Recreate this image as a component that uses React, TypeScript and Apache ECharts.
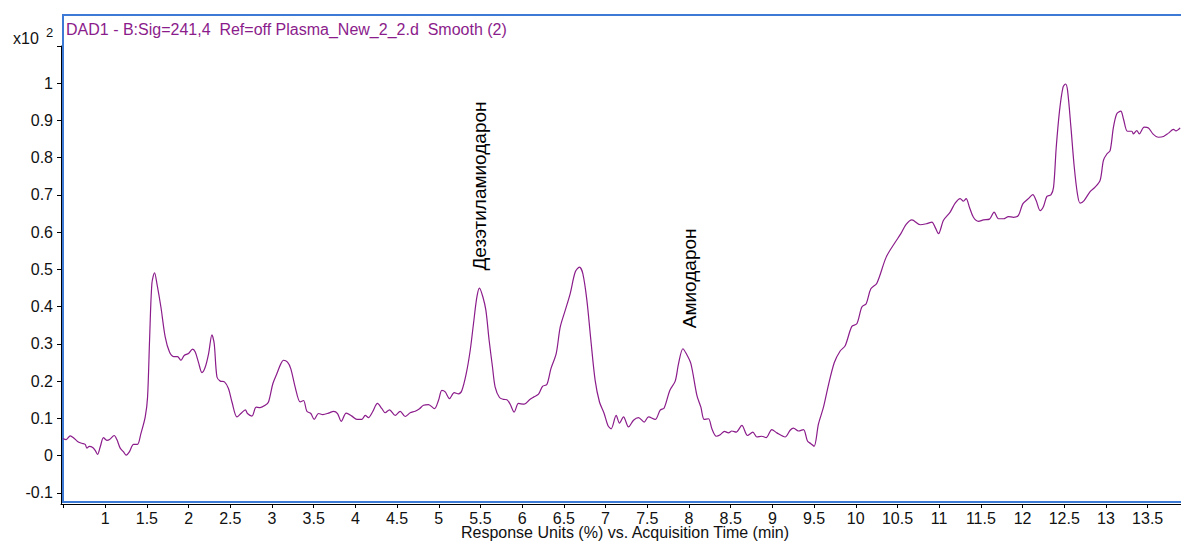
import { useEffect, useRef } from 'react';
import * as echarts from 'echarts';

// Retention time (min) of each sampled point of the DAD1 trace
const retentionTimes = [
  0.493, 0.532, 0.58, 0.62, 0.668, 0.72, 0.76, 0.78, 0.81, 0.85, 0.88, 0.908, 0.94, 0.98, 1.02, 1.052,
  1.108, 1.14, 1.18, 1.22, 1.252, 1.29, 1.34, 1.387, 1.428, 1.48, 1.508, 1.532, 1.56, 1.592, 1.62, 1.668,
  1.72, 1.771, 1.82, 1.867, 1.908, 1.947, 1.999, 2.047, 2.08, 2.12, 2.16, 2.2, 2.24, 2.28, 2.307, 2.34,
  2.38, 2.43, 2.478, 2.52, 2.58, 2.627, 2.68, 2.706, 2.76, 2.81, 2.858, 2.918, 2.958, 3.01, 3.058, 3.107,
  3.138, 3.186, 3.226, 3.278, 3.338, 3.378, 3.418, 3.466, 3.506, 3.558, 3.61, 3.678, 3.738, 3.786, 3.83,
  3.89, 3.958, 4.018, 4.078, 4.118, 4.157, 4.205, 4.265, 4.318, 4.357, 4.409, 4.477, 4.537, 4.597, 4.657,
  4.717, 4.769, 4.817, 4.877, 4.948, 4.996, 5.037, 5.077, 5.128, 5.185, 5.237, 5.277, 5.329, 5.377, 5.416,
  5.457, 5.488, 5.529, 5.565, 5.604, 5.644, 5.676, 5.728, 5.776, 5.817, 5.856, 5.904, 5.956, 6.024, 6.088,
  6.136, 6.196, 6.244, 6.296, 6.344, 6.408, 6.456, 6.516, 6.576, 6.636, 6.687, 6.728, 6.776, 6.824, 6.875,
  6.927, 6.983, 7.028, 7.067, 7.127, 7.167, 7.215, 7.275, 7.335, 7.395, 7.463, 7.515, 7.595, 7.655, 7.703,
  7.77, 7.835, 7.875, 7.927, 7.967, 8.023, 8.095, 8.143, 8.183, 8.234, 8.275, 8.327, 8.375, 8.426, 8.474,
  8.514, 8.566, 8.634, 8.702, 8.766, 8.814, 8.874, 8.925, 8.994, 9.054, 9.153, 9.213, 9.253, 9.313, 9.373,
  9.421, 9.462, 9.5, 9.553, 9.613, 9.673, 9.743, 9.813, 9.873, 9.953, 10.013, 10.073, 10.125, 10.181,
  10.253, 10.365, 10.473, 10.541, 10.604, 10.673, 10.773, 10.853, 10.913, 10.952, 10.992, 11.052, 11.132,
  11.192, 11.252, 11.291, 11.324, 11.363, 11.411, 11.471, 11.531, 11.603, 11.659, 11.711, 11.771, 11.831,
  11.891, 11.951, 12.003, 12.07, 12.123, 12.163, 12.211, 12.251, 12.292, 12.34, 12.372, 12.404, 12.444,
  12.485, 12.516, 12.54, 12.58, 12.62, 12.658, 12.69, 12.738, 12.81, 12.87, 12.93, 12.97, 13.011, 13.05,
  13.09, 13.13, 13.178, 13.21, 13.257, 13.31, 13.33, 13.37, 13.4, 13.458, 13.51, 13.563, 13.63, 13.69,
  13.75, 13.81, 13.84, 13.89,
];

// Detector response (x10^2 %) at each retention time above
const signalValues = [
  0.046, 0.043, 0.053, 0.048, 0.038, 0.033, 0.03, 0.02, 0.025, 0.022, 0.014, 0.003, 0.023, 0.048, 0.041, 0.043,
  0.054, 0.043, 0.02, 0.01, 0.001, 0.01, 0.03, 0.03, 0.059, 0.104, 0.157, 0.31, 0.462, 0.491, 0.462, 0.399,
  0.318, 0.278, 0.266, 0.266, 0.256, 0.269, 0.274, 0.286, 0.278, 0.249, 0.223, 0.238, 0.274, 0.324, 0.301, 0.211,
  0.2, 0.198, 0.18, 0.144, 0.104, 0.113, 0.123, 0.113, 0.106, 0.13, 0.129, 0.135, 0.144, 0.193, 0.22, 0.247,
  0.256, 0.251, 0.233, 0.184, 0.144, 0.148, 0.119, 0.113, 0.097, 0.113, 0.11, 0.114, 0.119, 0.113, 0.092,
  0.114, 0.106, 0.097, 0.097, 0.108, 0.102, 0.117, 0.14, 0.126, 0.115, 0.123, 0.108, 0.119, 0.105, 0.115,
  0.119, 0.126, 0.135, 0.137, 0.126, 0.148, 0.175, 0.171, 0.153, 0.169, 0.166, 0.175, 0.22, 0.283, 0.354,
  0.426, 0.45, 0.426, 0.39, 0.309, 0.238, 0.184, 0.156, 0.151, 0.15, 0.138, 0.117, 0.14, 0.138, 0.15,
  0.157, 0.165, 0.186, 0.191, 0.233, 0.274, 0.345, 0.39, 0.435, 0.493, 0.506, 0.488, 0.417, 0.309, 0.202,
  0.144, 0.113, 0.081, 0.072, 0.108, 0.087, 0.104, 0.077, 0.095, 0.102, 0.09, 0.104, 0.097, 0.122, 0.128,
  0.175, 0.2, 0.247, 0.287, 0.274, 0.247, 0.162, 0.13, 0.097, 0.099, 0.072, 0.052, 0.056, 0.065, 0.061,
  0.066, 0.063, 0.081, 0.054, 0.063, 0.05, 0.052, 0.048, 0.07, 0.061, 0.05, 0.068, 0.074, 0.066, 0.07,
  0.039, 0.032, 0.025, 0.085, 0.13, 0.19, 0.25, 0.281, 0.295, 0.347, 0.354, 0.399, 0.408, 0.448,
  0.463, 0.533, 0.573, 0.596, 0.621, 0.633, 0.62, 0.623, 0.627, 0.613, 0.596, 0.632, 0.654,
  0.678, 0.69, 0.683, 0.69, 0.667, 0.64, 0.629, 0.633, 0.635, 0.654, 0.636, 0.636, 0.642,
  0.64, 0.645, 0.676, 0.69, 0.701, 0.685, 0.658, 0.669, 0.696, 0.7, 0.721, 0.828, 0.927,
  0.989, 0.998, 0.98, 0.882, 0.775, 0.703, 0.678, 0.685, 0.709, 0.721, 0.739, 0.793, 0.81, 0.819,
  0.882, 0.918, 0.925, 0.904, 0.871, 0.871, 0.864, 0.873, 0.864, 0.882, 0.88, 0.864, 0.855, 0.857,
  0.866, 0.876, 0.872, 0.88,
];

// Axis ticks and labels
const timeTicks = [0.5, 1, 1.5, 2, 2.5, 3, 3.5, 4, 4.5, 5, 5.5, 6, 6.5, 7, 7.5, 8, 8.5, 9, 9.5, 10, 10.5, 11, 11.5, 12, 12.5, 13, 13.5];
const timeLabels = [1, 1.5, 2, 2.5, 3, 3.5, 4, 4.5, 5, 5.5, 6, 6.5, 7, 7.5, 8, 8.5, 9, 9.5, 10, 10.5, 11, 11.5, 12, 12.5, 13, 13.5];
const signalTicks = [-0.1, 0, 0.1, 0.2, 0.3, 0.4, 0.5, 0.6, 0.7, 0.8, 0.9, 1, 1.1];
const signalLabels = [-0.1, 0, 0.1, 0.2, 0.3, 0.4, 0.5, 0.6, 0.7, 0.8, 0.9, 1];

// Identified compounds: name, retention time and the level where the label starts
const compoundNames = ['Дезэтиламиодарон', 'Амиодарон'];
const compoundTimes = [5.49, 8.01];
const compoundLabelLevels = [0.497, 0.342];

const FONT = '"Liberation Sans", Arial, sans-serif';
const TRACE = '#8b1c8b';
const FRAME = '#3c7ad6';

export default function App() {
  const ref = useRef<HTMLDivElement>(null);

  useEffect(() => {
    if (!ref.current) return;
    const chart = echarts.init(ref.current, undefined, { renderer: 'svg' });

    const fmt = (v: number) => String(parseFloat(Number(v).toFixed(2)));

    chart.setOption({
      animation: false,
      grid: { left: 61, top: 46, width: 1120, height: 458 },
      xAxis: {
        type: 'value',
        min: 0.47,
        max: 13.9,
        axisLine: { show: true, onZero: false, lineStyle: { color: '#000', width: 1 } },
        axisTick: { show: true, customValues: timeTicks, length: 4, lineStyle: { color: '#000' } },
        axisLabel: {
          customValues: timeLabels,
          formatter: fmt,
          margin: 6,
          fontSize: 16,
          fontFamily: FONT,
          color: '#111',
        },
        splitLine: { show: false },
      },
      yAxis: {
        type: 'value',
        min: -0.13,
        max: 1.1,
        axisLine: { show: true, onZero: false, lineStyle: { color: '#000', width: 1 } },
        axisTick: { show: true, customValues: signalTicks, length: 4, lineStyle: { color: '#000' } },
        axisLabel: {
          customValues: signalLabels,
          formatter: fmt,
          margin: 8,
          fontSize: 16,
          fontFamily: FONT,
          color: '#111',
        },
        splitLine: { show: false },
      },
      series: [
        {
          type: 'line',
          data: retentionTimes.map((t, i) => [t, signalValues[i]]),
          symbol: 'none',
          smooth: 0.3,
          lineStyle: { color: TRACE, width: 1.2 },
        },
      ],
    });

    const labels = compoundNames.map((name, i) => {
      const [px, py] = chart.convertToPixel({ gridIndex: 0 }, [compoundTimes[i], compoundLabelLevels[i]]) as number[];
      return {
        type: 'text',
        x: px,
        y: py,
        rotation: Math.PI / 2,
        style: {
          text: name,
          fill: '#000',
          font: `19px ${FONT}`,
          textAlign: 'left',
          textVerticalAlign: 'middle',
        },
      };
    });

    chart.setOption({
      graphic: [
        {
          type: 'rect',
          shape: { x: 63, y: 15, width: 1140, height: 487 },
          style: { fill: 'none', stroke: FRAME, lineWidth: 2 },
          z: 0,
        },
        {
          type: 'text',
          x: 66,
          y: 29,
          style: {
            text: 'DAD1 - B:Sig=241,4  Ref=off Plasma_New_2_2.d  Smooth (2)',
            fill: TRACE,
            font: `16px ${FONT}`,
            textVerticalAlign: 'middle',
          },
        },
        {
          type: 'text',
          x: 13,
          y: 38,
          style: { text: 'x10', fill: '#111', font: `16px ${FONT}`, textVerticalAlign: 'middle' },
        },
        {
          type: 'text',
          x: 46,
          y: 32,
          style: { text: '2', fill: '#111', font: `13px ${FONT}`, textVerticalAlign: 'middle' },
        },
        {
          type: 'text',
          x: 625,
          y: 532,
          style: {
            text: 'Response Units (%) vs. Acquisition Time (min)',
            fill: '#111',
            font: `16px ${FONT}`,
            textAlign: 'center',
            textVerticalAlign: 'middle',
          },
        },
        ...labels,
      ],
    });

    return () => chart.dispose();
  }, []);

  return (
    <div
      ref={ref}
      style={{ position: 'fixed', left: 0, top: 0, width: 1181, height: 541, background: '#fff' }}
    />
  );
}
